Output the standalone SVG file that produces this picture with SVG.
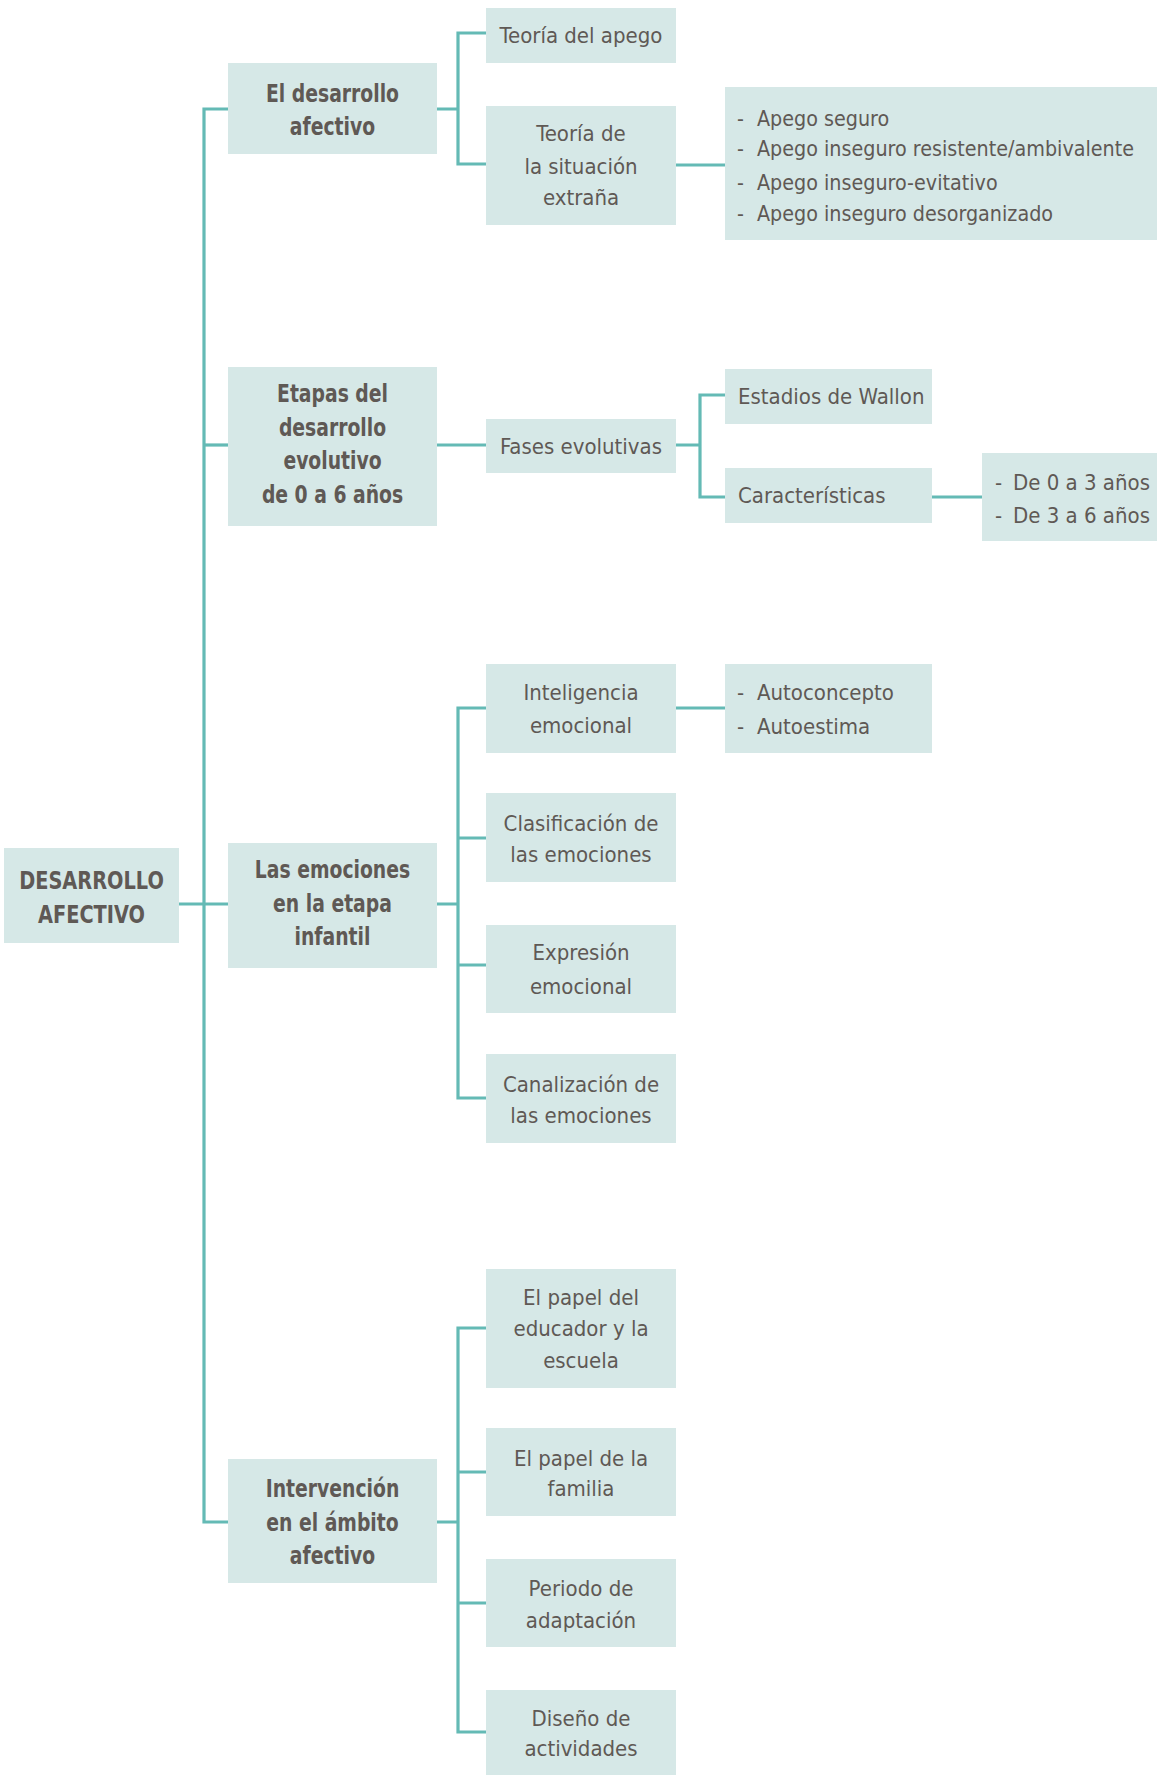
<svg xmlns="http://www.w3.org/2000/svg" width="1159" height="1775" viewBox="0 0 1159 1775">
<style>
.b{fill:#d6e8e7}
.c{fill:none;stroke:#64bab5;stroke-width:3.2}
text{font-family:"Liberation Sans Narrow","DejaVu Sans Condensed","Liberation Sans",sans-serif;fill:#5f5955}
.t1{font-size:24px;font-weight:bold;text-anchor:middle}
.t0{font-size:25px;font-weight:bold;text-anchor:middle}
.t2{font-size:22px;text-anchor:middle}
.tl{font-size:22px}
.ts{font-size:21.3px}
</style>
<rect width="1159" height="1775" fill="#fff"/>
<g id="connectors">
<path class="c" d="M228 109H204V1522H228"/>
<path class="c" d="M179 904H228"/>
<path class="c" d="M204 445H228"/>
<path class="c" d="M437 109H458M486 33H458V164H486"/>
<path class="c" d="M676 165H725"/>
<path class="c" d="M437 445H486"/>
<path class="c" d="M676 445H700M725 395H700V497H725"/>
<path class="c" d="M932 497H982"/>
<path class="c" d="M437 904H458M486 708H458V1098H486M458 838H486M458 965H486"/>
<path class="c" d="M676 708H725"/>
<path class="c" d="M437 1522H458M486 1328H458V1732H486M458 1472H486M458 1603H486"/>
</g>
<g id="root"><rect class="b" x="4" y="848" width="175" height="95"/><g transform="translate(91.5 0) scale(0.86 1)"><text class="t0" x="0" y="889">DESARROLLO</text><text class="t0" x="0" y="923">AFECTIVO</text></g></g>
<g id="n1"><rect class="b" x="228" y="63" width="209" height="91"/><g transform="translate(332.5 0) scale(0.87 1)"><text class="t1" x="0" y="102">El desarrollo</text><text class="t1" x="0" y="135">afectivo</text></g></g>
<g id="n1a"><rect class="b" x="486" y="8" width="190" height="55"/><text class="t2" x="581" y="43">Teoría del apego</text></g>
<g id="n1b"><rect class="b" x="486" y="106" width="190" height="119"/><text class="t2" x="581" y="141">Teoría de</text><text class="t2" x="581" y="174">la situación</text><text class="t2" x="581" y="205">extraña</text></g>
<g id="n1b1"><rect class="b" x="725" y="87" width="432" height="153"/>
<text class="ts" y="126"><tspan x="737">-</tspan><tspan x="757">Apego seguro</tspan></text>
<text class="ts" y="156"><tspan x="737">-</tspan><tspan x="757">Apego inseguro resistente/ambivalente</tspan></text>
<text class="ts" y="190"><tspan x="737">-</tspan><tspan x="757">Apego inseguro-evitativo</tspan></text>
<text class="ts" y="221"><tspan x="737">-</tspan><tspan x="757">Apego inseguro desorganizado</tspan></text></g>
<g id="n2"><rect class="b" x="228" y="367" width="209" height="159"/><g transform="translate(332.5 0) scale(0.87 1)"><text class="t1" x="0" y="402">Etapas del</text><text class="t1" x="0" y="436">desarrollo</text><text class="t1" x="0" y="469">evolutivo</text><text class="t1" x="0" y="503">de 0 a 6 años</text></g></g>
<g id="n2a"><rect class="b" x="486" y="419" width="190" height="54"/><text class="t2" x="581" y="454">Fases evolutivas</text></g>
<g id="n2a1"><rect class="b" x="725" y="369" width="207" height="55"/><text class="tl" x="738" y="404">Estadios de Wallon</text></g>
<g id="n2a2"><rect class="b" x="725" y="468" width="207" height="55"/><text class="tl" x="738" y="503">Características</text></g>
<g id="n2a2a"><rect class="b" x="982" y="453" width="175" height="88"/>
<text class="tl" y="490"><tspan x="995">-</tspan><tspan x="1013">De 0 a 3 años</tspan></text>
<text class="tl" y="523"><tspan x="995">-</tspan><tspan x="1013">De 3 a 6 años</tspan></text></g>
<g id="n3"><rect class="b" x="228" y="843" width="209" height="125"/><g transform="translate(332.5 0) scale(0.87 1)"><text class="t1" x="0" y="878">Las emociones</text><text class="t1" x="0" y="912">en la etapa</text><text class="t1" x="0" y="945">infantil</text></g></g>
<g id="n3a"><rect class="b" x="486" y="664" width="190" height="89"/><text class="t2" x="581" y="700">Inteligencia</text><text class="t2" x="581" y="733">emocional</text></g>
<g id="n3a1"><rect class="b" x="725" y="664" width="207" height="89"/>
<text class="tl" y="700"><tspan x="737">-</tspan><tspan x="757">Autoconcepto</tspan></text>
<text class="tl" y="734"><tspan x="737">-</tspan><tspan x="757">Autoestima</tspan></text></g>
<g id="n3b"><rect class="b" x="486" y="793" width="190" height="89"/><text class="t2" x="581" y="831">Clasificación de</text><text class="t2" x="581" y="862">las emociones</text></g>
<g id="n3c"><rect class="b" x="486" y="925" width="190" height="88"/><text class="t2" x="581" y="960">Expresión</text><text class="t2" x="581" y="994">emocional</text></g>
<g id="n3d"><rect class="b" x="486" y="1054" width="190" height="89"/><text class="t2" x="581" y="1092">Canalización de</text><text class="t2" x="581" y="1123">las emociones</text></g>
<g id="n4"><rect class="b" x="228" y="1459" width="209" height="124"/><g transform="translate(332.5 0) scale(0.87 1)"><text class="t1" x="0" y="1497">Intervención</text><text class="t1" x="0" y="1531">en el ámbito</text><text class="t1" x="0" y="1564">afectivo</text></g></g>
<g id="n4a"><rect class="b" x="486" y="1269" width="190" height="119"/><text class="t2" x="581" y="1305">El papel del</text><text class="t2" x="581" y="1336">educador y la</text><text class="t2" x="581" y="1368">escuela</text></g>
<g id="n4b"><rect class="b" x="486" y="1428" width="190" height="88"/><text class="t2" x="581" y="1466">El papel de la</text><text class="t2" x="581" y="1496">familia</text></g>
<g id="n4c"><rect class="b" x="486" y="1559" width="190" height="88"/><text class="t2" x="581" y="1596">Periodo de</text><text class="t2" x="581" y="1628">adaptación</text></g>
<g id="n4d"><rect class="b" x="486" y="1690" width="190" height="85"/><text class="t2" x="581" y="1726">Diseño de</text><text class="t2" x="581" y="1756">actividades</text></g>
</svg>
